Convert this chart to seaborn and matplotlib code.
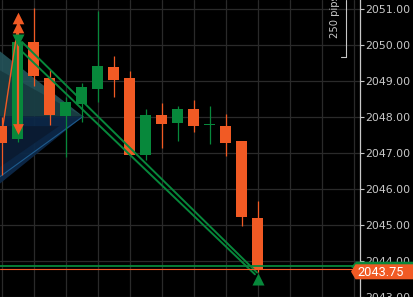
import matplotlib
matplotlib.use("Agg")
import matplotlib.pyplot as plt
import seaborn as sns
import numpy as np
import pandas as pd
from matplotlib.patches import Polygon
from matplotlib.ticker import FormatStrFormatter

# ---------------- data ----------------
candle_idx = list(range(17))
opens  = [2047.76, 2047.40, 2050.10, 2049.08, 2048.04, 2048.37, 2048.78, 2049.38, 2049.08,
          2046.96, 2048.06, 2047.84, 2048.23, 2047.78, 2047.76, 2047.35, 2045.20]
closes = [2047.27, 2050.10, 2049.14, 2048.06, 2048.42, 2048.83, 2049.41, 2049.03, 2046.96,
          2048.06, 2047.82, 2048.23, 2047.76, 2047.80, 2047.29, 2045.23, 2043.78]
highs  = [2048.00, 2050.20, 2051.03, 2049.30, 2048.56, 2048.94, 2050.96, 2049.69, 2049.27,
          2048.23, 2048.39, 2048.31, 2048.48, 2048.31, 2048.09, 2047.35, 2045.67]
lows   = [2046.38, 2047.30, 2048.86, 2047.77, 2046.90, 2047.87, 2048.42, 2048.56, 2046.94,
          2046.80, 2047.13, 2047.35, 2047.60, 2047.26, 2046.93, 2044.98, 2043.69]

price_ticks = [2043, 2044, 2045, 2046, 2047, 2048, 2049, 2050, 2051]
bid_price = 2043.78
ask_price = 2043.85
bid_label = "2043.75"
range_label = "250 pips"

# trade markers (candle index, price)
up_orange_x = [1, 1]
up_orange_y = [2050.76, 2050.50]
down_green_x = [1]
down_green_y = [2050.15]
down_orange_x = [1]
down_orange_y = [2047.68]
up_green_x = [16.03]
up_green_y = [2043.51]

# trade lines
green_line_a_x = [1.28, 15.97]
green_line_a_y = [2050.09, 2043.68]
green_line_b_x = [0.91, 15.84]
green_line_b_y = [2049.98, 2043.63]
orange_diag_x = [0.09, 0.97]
orange_diag_y = [2047.76, 2050.37]
orange_vert_x = [1, 1]
orange_vert_y = [2050.60, 2047.72]

# shaded pattern triangles
teal_tri_x = [-0.3, 5.10, -0.3]
teal_tri_y = [2049.90, 2048.02, 2048.02]
teal_inner_x = [-0.3, 5.10, -0.3]
teal_inner_y = [2049.35, 2048.02, 2048.02]
navy_tri_x = [-0.3, 5.10, -0.3]
navy_tri_y = [2048.02, 2048.02, 2046.08]
navy_inner_x = [-0.3, 3.6, -0.3]
navy_inner_y = [2047.75, 2047.75, 2046.55]

ORANGE = "#f15a24"
GREEN = "#07883b"
TEXT = "#c8c8c8"
GRID = "#2a2a2a"

W, H = 413, 297
sns.set_theme(style="dark", rc={
    "axes.facecolor": "black", "figure.facecolor": "black",
    "axes.grid": True, "grid.color": GRID, "grid.linewidth": 0.9,
    "axes.edgecolor": TEXT,
})
plt.rcParams['font.family'] = ['DejaVu Sans']

fig = plt.figure(figsize=(W / 100, H / 100), dpi=100)
ax = fig.add_axes([0, 0, 360 / W, 1])
ax.set_facecolor("black")

ppx = 16.0
ax.set_xlim(-1.5 / ppx, (360 - 1.5) / ppx)
ax.set_ylim(2048 - (297 - 118.3) / 36.33, 2048 + 118.3 / 36.33)

# shaded triangles
ax.fill(teal_tri_x, teal_tri_y, color="#25555c", alpha=0.9, lw=0, zorder=1)
ax.fill(teal_inner_x, teal_inner_y, color="#173a40", alpha=0.9, lw=0, zorder=1)
ax.fill(navy_tri_x, navy_tri_y, color="#0c2848", alpha=0.95, lw=0, zorder=1)
ax.fill(navy_inner_x, navy_inner_y, color="#0a1a30", alpha=0.9, lw=0, zorder=1)
ax.plot([navy_tri_x[2], navy_tri_x[1]], [navy_tri_y[2] + 0.2, navy_tri_y[1]], color="#1d5a8c", lw=0.8, zorder=1)

# candles
df = pd.DataFrame({"i": candle_idx, "o": opens, "c": closes, "h": highs, "l": lows})
df["col"] = np.where(df["c"] >= df["o"], GREEN, ORANGE)
df["bottom"] = df[["o", "c"]].min(axis=1)
df["height"] = (df["c"] - df["o"]).abs().clip(lower=0.03)
ax.vlines(df["i"], df["l"], df["h"], colors=df["col"], lw=0.9, zorder=3)
ax.bar(df["i"], df["height"], bottom=df["bottom"], width=0.69, color=df["col"], lw=0, zorder=4)

# trade lines
ax.plot(green_line_a_x, green_line_a_y, color=GREEN, lw=1.4, zorder=5)
ax.plot(green_line_b_x, green_line_b_y, color=GREEN, lw=1.4, zorder=5)
ax.plot(orange_diag_x, orange_diag_y, color=ORANGE, lw=1.0, zorder=5)
ax.plot(orange_vert_x, orange_vert_y, color=ORANGE, lw=1.6, zorder=6)

# markers
sns.scatterplot(x=up_orange_x, y=up_orange_y, marker="^", s=70, color=ORANGE, linewidth=0, ax=ax, zorder=7)
sns.scatterplot(x=down_green_x, y=down_green_y, marker="v", s=75, color=GREEN, linewidth=0, ax=ax, zorder=7)
sns.scatterplot(x=down_orange_x, y=down_orange_y, marker="v", s=60, color=ORANGE, linewidth=0, ax=ax, zorder=7)
sns.scatterplot(x=up_green_x, y=up_green_y, marker="^", s=75, color=GREEN, linewidth=0, ax=ax, zorder=7)

# bid / ask lines
ax.axhline(ask_price, color=GREEN, lw=1.3, zorder=6)
ax.axhline(bid_price, color=ORANGE, lw=0.8, zorder=6)

# axes styling
ax.set_xticks(np.arange(0, 23, 2))
ax.set_xticklabels([])
ax.tick_params(axis="x", length=0)
ax.yaxis.tick_right()
ax.set_yticks(price_ticks)
ax.yaxis.set_major_formatter(FormatStrFormatter("%.2f"))
ax.tick_params(axis="y", right=True, length=3, width=0.8, color=TEXT, pad=1,
               labelcolor=TEXT, labelsize=7.9)
for s in ["left", "top", "bottom"]:
    ax.spines[s].set_visible(False)
ax.spines["right"].set_color(TEXT)
ax.spines["right"].set_linewidth(0.9)
ax.grid(True, color=GRID, lw=0.9)
ax.set_xlabel("")
ax.set_ylabel("")
for t in ax.get_yticklabels():
    t.set_clip_on(False)


def fx(px):
    return px / W


def fy(py):
    return 1 - py / H


# price labels
green_poly = Polygon([(fx(351), fy(267)), (fx(356), fy(261.7)), (fx(413), fy(261.7)),
                      (fx(413), fy(270)), (fx(356), fy(270))],
                     closed=True, transform=fig.transFigure, color=GREEN, lw=0, zorder=10)
orange_poly = Polygon([(fx(351), fy(271.7)), (fx(355.5), fy(264.3)), (fx(413), fy(264.3)),
                       (fx(413), fy(279.3)), (fx(355.5), fy(279.3))],
                      closed=True, transform=fig.transFigure, color=ORANGE, lw=0, zorder=11)
fig.add_artist(green_poly)
fig.add_artist(orange_poly)
fig.text(fx(380.5), fy(272), bid_label, color="white", fontsize=9.2, family="Roboto",
         ha="center", va="center", zorder=12)

# range measurement bracket
fig.add_artist(plt.Line2D([fx(346), fx(346)], [fy(0), fy(57)], transform=fig.transFigure,
                          color=TEXT, lw=0.8))
fig.add_artist(plt.Line2D([fx(341), fx(346)], [fy(57), fy(57)], transform=fig.transFigure,
                          color=TEXT, lw=0.8))
fig.text(fx(335.5), fy(38), range_label, rotation=90, color=TEXT, fontsize=7.2,
         ha="center", va="bottom")

fig.savefig("out.png", dpi=100, facecolor="black")
